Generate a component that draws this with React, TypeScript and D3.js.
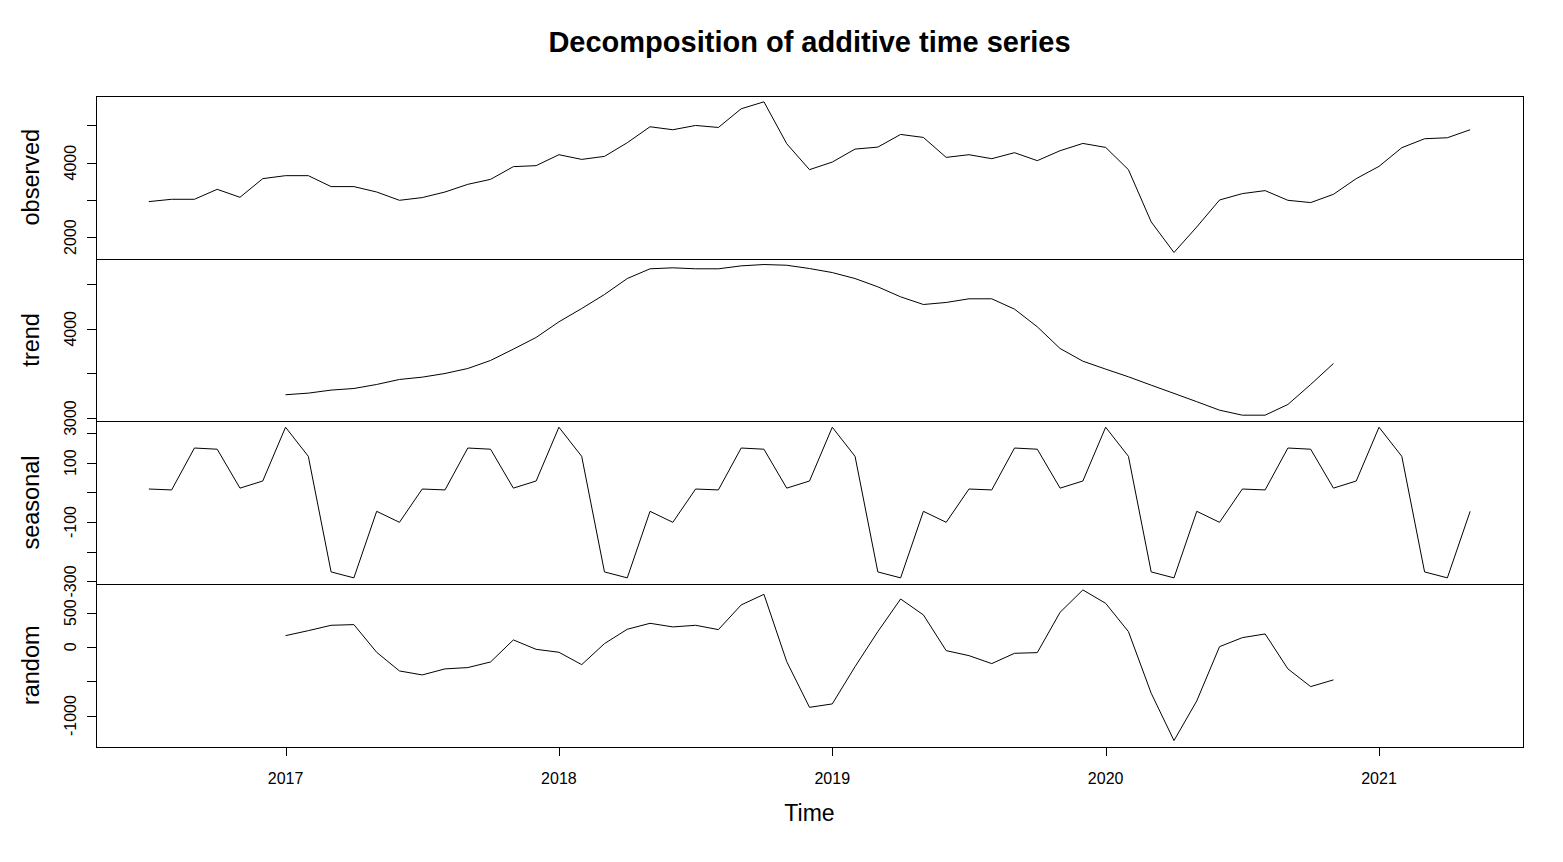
import React from 'react';
import * as d3 from 'd3';

// Monthly series, July 2016 .. May 2021 (59 months)
const START_YEAR = 2016.5;
const FREQ = 12;

const observed = [
  2954, 3016, 3016, 3284, 3070, 3571, 3651, 3651, 3357, 3357, 3212, 2989,
  3062, 3212, 3418, 3552, 3893, 3920, 4214, 4088, 4169, 4536, 4965, 4885,
  5000, 4946, 5448, 5635, 4509, 3812, 4016, 4365, 4418, 4759, 4678, 4142,
  4214, 4107, 4268, 4054, 4322, 4517, 4410, 3812, 2408, 1587, 2273, 2997,
  3169, 3249, 2989, 2928, 3150, 3571, 3901, 4402, 4643, 4670, 4885,
];

// trend & random start January 2017 (index 6) and end November 2020
const TREND_OFFSET = 6;
const trend = [
  3261, 3279, 3313, 3331, 3376, 3432, 3458, 3499, 3555, 3645, 3772, 3903,
  4078, 4227, 4384, 4563, 4672, 4683, 4672, 4672, 4705, 4720, 4712, 4675,
  4630, 4563, 4470, 4358, 4272, 4295, 4336, 4336, 4220, 4022, 3779, 3637,
  3548, 3462, 3368, 3276, 3183, 3088, 3032, 3032, 3152, 3376, 3611,
];

const seasonal = [
  11, 8, 149, 145, 14, 38, 219, 121, -268, -288, -64, -101,
  11, 8, 149, 145, 14, 38, 219, 121, -268, -288, -64, -101,
  11, 8, 149, 145, 14, 38, 219, 121, -268, -288, -64, -101,
  11, 8, 149, 145, 14, 38, 219, 121, -268, -288, -64, -101,
  11, 8, 149, 145, 14, 38, 219, 121, -268, -288, -64,
];

const random = [
  164, 237, 315, 325, -78, -350, -408, -320, -301, -219, 102, -35,
  -78, -258, 48, 257, 344, 291, 315, 252, 611, 766, -214, -880,
  -830, -287, 223, 698, 466, -54, -127, -243, -93, -83, 504, 830,
  635, 223, -675, -1364, -786, 4, 135, 189, -320, -578, -480,
];

const panelNames = ['observed', 'trend', 'seasonal', 'random'];
const observedTicks = [2000, 3000, 4000, 5000];
const observedLabels = [2000, 4000];
const trendTicks = [3000, 3500, 4000, 4500];
const trendLabels = [3000, 4000];
const seasonalTicks = [-300, -200, -100, 0, 100, 200];
const seasonalLabels = [-300, -100, 100];
const randomTicks = [-1000, -500, 0, 500];
const randomLabels = [-1000, 0, 500];
const xTicks = [2017, 2018, 2019, 2020, 2021];

const TITLE = 'Decomposition of additive time series';
const XLAB = 'Time';

const W = 1563;
const H = 862;
const LEFT = 96;
const RIGHT = 1523;
const TOP = 95.8;
const PANEL_H = 162.7;
const FONT = '"Liberation Sans", Arial, Helvetica, sans-serif';

type Pt = { t: number; v: number };

function toPoints(values: number[], offset: number): Pt[] {
  return values.map((v, i) => ({ t: START_YEAR + (i + offset) / FREQ, v }));
}

function padExtent(vals: number[]): [number, number] {
  const [a, b] = d3.extent(vals) as [number, number];
  const r = b - a;
  return [a - 0.04 * r, b + 0.04 * r];
}

export default function App() {
  const allT = toPoints(observed, 0).map((d) => d.t);
  const x = d3.scaleLinear().domain(padExtent(allT)).range([LEFT, RIGHT]);

  const panels = [
    { name: panelNames[0], pts: toPoints(observed, 0), ticks: observedTicks, labels: observedLabels },
    { name: panelNames[1], pts: toPoints(trend, TREND_OFFSET), ticks: trendTicks, labels: trendLabels },
    { name: panelNames[2], pts: toPoints(seasonal, 0), ticks: seasonalTicks, labels: seasonalLabels },
    { name: panelNames[3], pts: toPoints(random, TREND_OFFSET), ticks: randomTicks, labels: randomLabels },
  ];

  const bottom = TOP + PANEL_H * panels.length;

  return (
    <svg
      width={W}
      height={H}
      viewBox={`0 0 ${W} ${H}`}
      style={{ position: 'absolute', left: 0, top: 0, background: '#fff' }}
      fontFamily={FONT}
    >
      <rect x={0} y={0} width={W} height={H} fill="#fff" />
      <text
        x={(LEFT + RIGHT) / 2}
        y={52}
        textAnchor="middle"
        fontSize={29}
        fontWeight="bold"
        fill="#000"
      >
        {TITLE}
      </text>
      {panels.map((p, k) => {
        const y0 = TOP + k * PANEL_H;
        const y1 = y0 + PANEL_H;
        const y = d3
          .scaleLinear()
          .domain(padExtent(p.pts.map((d) => d.v)))
          .range([y1, y0]);
        const line = d3
          .line<Pt>()
          .x((d) => x(d.t))
          .y((d) => y(d.v));
        return (
          <g key={p.name}>
            <path
              d={line(p.pts) || ''}
              fill="none"
              stroke="#000"
              strokeWidth={1}
              strokeLinejoin="round"
            />
            {p.ticks.map((t) => (
              <line
                key={'t' + t}
                x1={LEFT - 8.7}
                x2={LEFT}
                y1={Math.round(y(t)) + 0.5}
                y2={Math.round(y(t)) + 0.5}
                stroke="#000"
                strokeWidth={1}
                shapeRendering="crispEdges"
              />
            ))}
            {p.labels.map((t) => (
              <text
                key={'l' + t}
                transform={`translate(76, ${y(t)}) rotate(-90)`}
                textAnchor="middle"
                fontSize={16}
                fill="#000"
              >
                {t}
              </text>
            ))}
            <text
              transform={`translate(38.5, ${(y0 + y1) / 2}) rotate(-90)`}
              textAnchor="middle"
              fontSize={23.5}
              fill="#000"
            >
              {p.name}
            </text>
            <rect
              x={LEFT + 0.5}
              y={Math.round(y0) + 0.5}
              width={RIGHT - LEFT}
              height={Math.round(y1) - Math.round(y0)}
              fill="none"
              stroke="#000"
              strokeWidth={1}
              shapeRendering="crispEdges"
            />
          </g>
        );
      })}
      {xTicks.map((t) => (
        <g key={'x' + t}>
          <line
            x1={Math.round(x(t)) + 0.5}
            x2={Math.round(x(t)) + 0.5}
            y1={bottom}
            y2={bottom + 9}
            stroke="#000"
            strokeWidth={1}
            shapeRendering="crispEdges"
          />
          <text x={x(t)} y={783.5} textAnchor="middle" fontSize={16} fill="#000">
            {t}
          </text>
        </g>
      ))}
      <text x={(LEFT + RIGHT) / 2} y={821} textAnchor="middle" fontSize={23} fill="#000">
        {XLAB}
      </text>
    </svg>
  );
}
